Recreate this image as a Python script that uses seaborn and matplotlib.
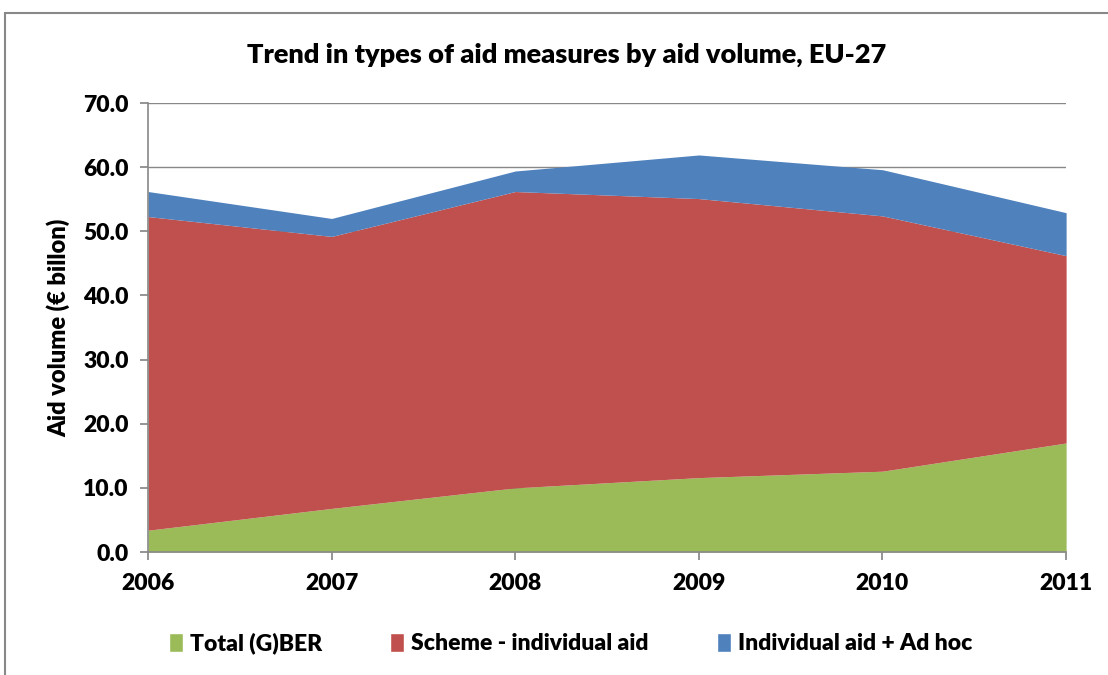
import matplotlib.pyplot as plt
import seaborn as sns
from matplotlib.patches import Patch, Rectangle

years = [2006, 2007, 2008, 2009, 2010, 2011]
gber = [3.4, 6.8, 10.0, 11.6, 12.6, 17.0]
scheme_individual = [48.9, 42.4, 46.2, 43.5, 39.8, 29.2]
individual_adhoc = [3.9, 2.8, 3.2, 6.8, 7.2, 6.7]

labels = ["Total (G)BER", "Scheme - individual aid", "Individual aid + Ad hoc"]
colors = ["#9BBB59", "#C0504D", "#4F81BD"]

sns.set_theme(style="white")
plt.rcParams['font.family'] = ['Lato', 'DejaVu Sans']
plt.rcParams['font.weight'] = 'heavy'
plt.rcParams['text.color'] = 'black'
plt.rcParams['axes.labelcolor'] = 'black'
plt.rcParams['xtick.color'] = 'black'
plt.rcParams['ytick.color'] = 'black'

fig = plt.figure(figsize=(11.08, 6.75), dpi=100)
ax = fig.add_axes([0.1336, 0.1822, 0.8286, 0.6652])

ax.stackplot(years, gber, scheme_individual, individual_adhoc, colors=colors, linewidth=0)

ax.set_xlim(2006, 2011)
ax.set_ylim(0, 70)
ax.set_yticks(range(0, 71, 10))
ax.set_yticklabels([f"{v:.1f}" for v in range(0, 71, 10)])
ax.set_xticks(years)
ax.yaxis.grid(True, color="#888888", linewidth=1)
ax.set_axisbelow(True)
for s in ["top", "right"]:
    ax.spines[s].set_visible(False)
for s in ["left", "bottom"]:
    ax.spines[s].set_color("#888888")
    ax.spines[s].set_linewidth(1.2)
ax.tick_params(axis="both", which="both", length=6, color="#888888", direction="out",
               labelsize=16.5, bottom=True, left=True)
for t in ax.get_xticklabels() + ax.get_yticklabels():
    t.set_fontweight("heavy")
ax.tick_params(axis="y", pad=8)
ax.tick_params(axis="x", pad=9)

ax.set_ylabel("Aid volume (€ billon)", fontsize=17, fontweight="heavy", labelpad=9)
fig.text(0.511, 0.918, "Trend in types of aid measures by aid volume, EU-27",
         ha="center", va="center", fontsize=19.5, fontweight="heavy")

handles = [Patch(facecolor=c, label=l) for c, l in zip(colors, labels)]
fig.legend(handles=handles, loc="center", bbox_to_anchor=(0.515, 0.047), ncol=3,
           frameon=False, prop={"size": 16.5, "weight": "heavy"},
           handlelength=0.6, handleheight=0.9, handletextpad=0.3, columnspacing=3.0)

fig.patches.append(Rectangle((0.0045, -0.05), 1.1, 1.0307, transform=fig.transFigure,
                             fill=False, edgecolor="#888888", linewidth=1.5))

fig.savefig("out.png", dpi=100)
